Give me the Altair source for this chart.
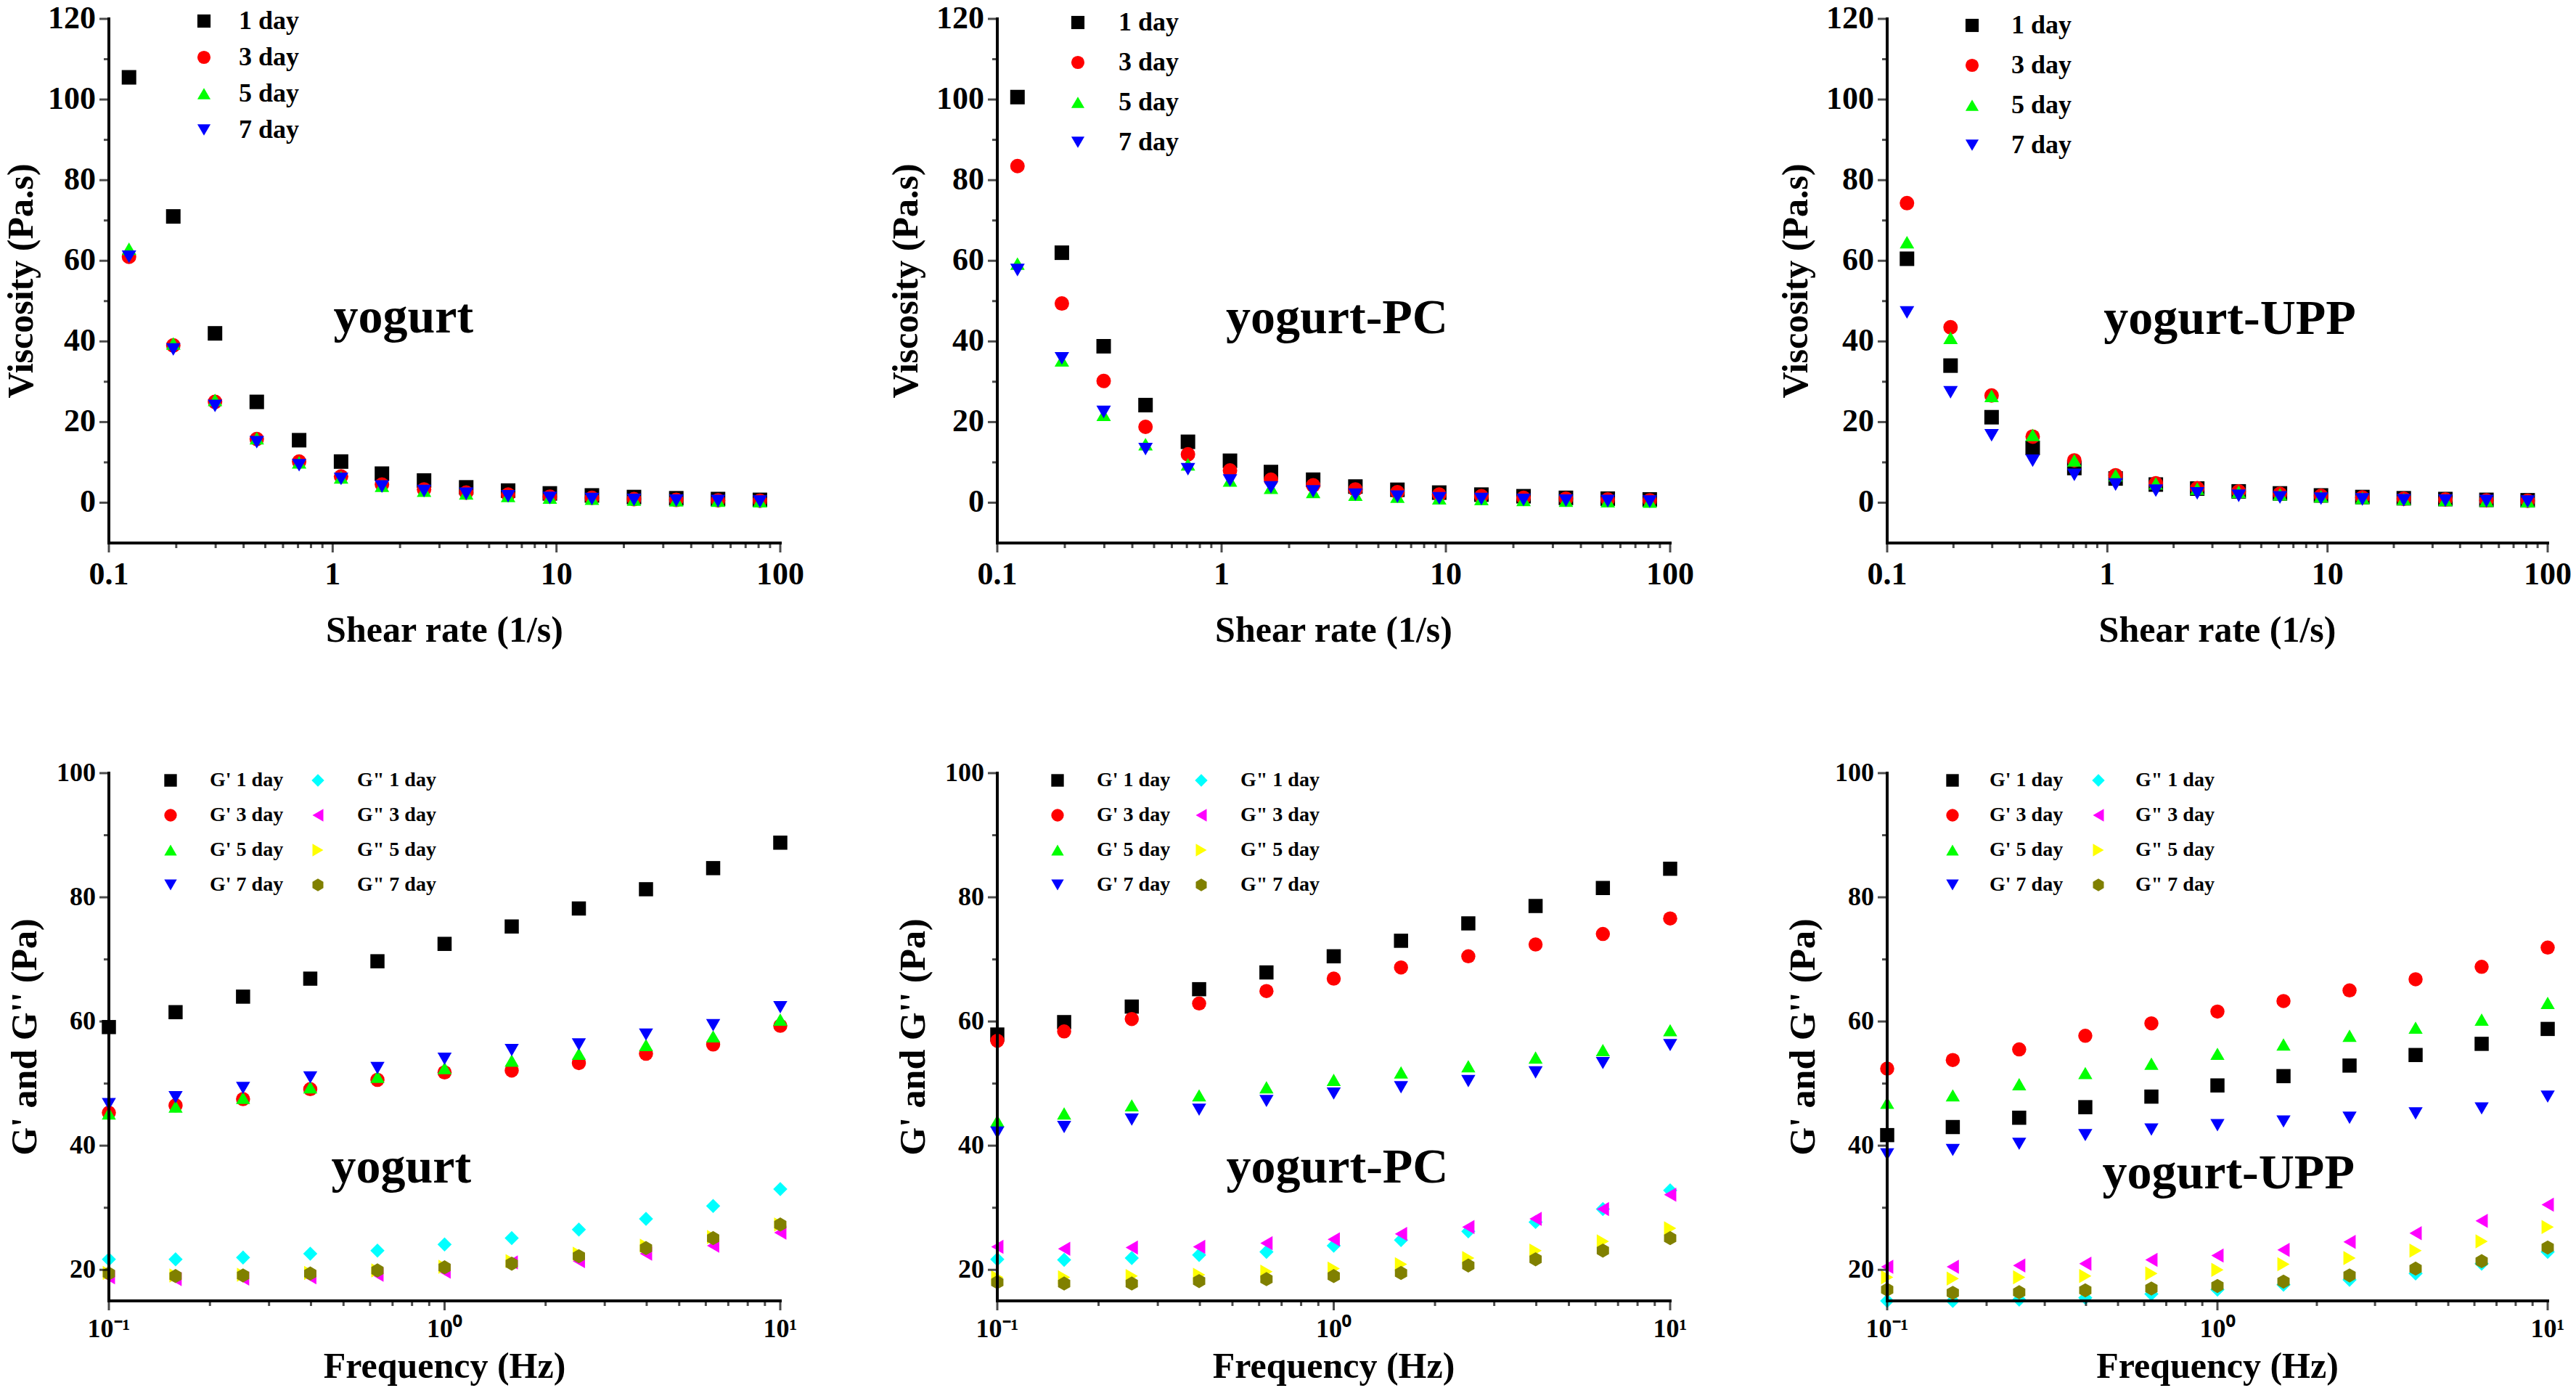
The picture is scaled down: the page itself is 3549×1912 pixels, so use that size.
import altair as alt
import pandas as pd

FONT = "Liberation Serif"

# ---------------- data ----------------
shear_rate = [0.123, 0.194, 0.298, 0.458, 0.708, 1.09, 1.66, 2.56, 3.95, 6.08,
              9.34, 14.4, 22.2, 34.3, 52.7, 81.1]
frequency = [0.1, 0.158, 0.251, 0.398, 0.631, 1.0, 1.585, 2.512, 3.981, 6.31, 10.0]

days = ["1 day", "3 day", "5 day", "7 day"]
day_colors = ["#000000", "#FF0000", "#00FF00", "#0000FF"]
day_shapes = ["square", "circle", "triangle-up", "triangle-down"]

# viscosity (Pa.s)
yog_1 = [105.5, 71, 42, 25, 15.5, 10.2, 7.2, 5.5, 3.8, 3.0, 2.3, 1.8, 1.4, 1.1, 0.9, 0.7]
yog_3 = [61, 39, 25, 15.8, 10.2, 6.5, 4.5, 3.3, 2.5, 2.0, 1.5, 1.2, 0.9, 0.7, 0.6, 0.5]
yog_5 = [63, 39.5, 25.5, 16, 10, 6.3, 4.2, 3.0, 2.3, 1.7, 1.3, 1.0, 0.8, 0.6, 0.5, 0.4]
yog_7 = [61, 38, 24, 15, 9.3, 5.9, 4.0, 2.9, 2.2, 1.6, 1.2, 0.9, 0.7, 0.5, 0.4, 0.3]

pc_1 = [100.6, 62, 38.8, 24.2, 15.1, 10.4, 7.6, 5.7, 4.0, 3.2, 2.5, 2.0, 1.6, 1.2, 1.0, 0.8]
pc_3 = [83.5, 49.4, 30.2, 18.8, 12, 8, 5.7, 4.3, 3.3, 2.6, 2.0, 1.6, 1.2, 1.0, 0.8, 0.6]
pc_5 = [59.3, 35.3, 21.8, 14.5, 9.5, 5.5, 3.7, 2.7, 2.0, 1.5, 1.1, 0.9, 0.7, 0.5, 0.4, 0.3]
pc_7 = [57.7, 35.8, 22.5, 13.3, 8.3, 5.5, 3.8, 2.8, 2.0, 1.5, 1.1, 0.9, 0.7, 0.5, 0.4, 0.3]

upp_1 = [60.5, 34, 21.2, 13.6, 8.6, 6.0, 4.5, 3.5, 2.8, 2.3, 1.8, 1.4, 1.1, 0.9, 0.7, 0.6]
upp_3 = [74.3, 43.5, 26.6, 16.4, 10.5, 6.8, 4.8, 3.6, 2.8, 2.2, 1.7, 1.3, 1.0, 0.8, 0.6, 0.5]
upp_5 = [64.6, 40.9, 26.5, 16.8, 10.5, 6.8, 4.8, 3.5, 2.7, 2.1, 1.6, 1.2, 0.9, 0.7, 0.5, 0.4]
upp_7 = [47.2, 27.4, 16.7, 10.4, 6.9, 4.5, 3.0, 2.3, 1.7, 1.3, 1.0, 0.8, 0.6, 0.5, 0.4, 0.3]

# moduli (Pa)
mod_series = ["G' 1 day", "G' 3 day", "G' 5 day", "G' 7 day",
              'G" 1 day', 'G" 3 day', 'G" 5 day', 'G" 7 day']
mod_colors = ["#000000", "#FF0000", "#00FF00", "#0000FF",
              "#00FFFF", "#FF00FF", "#FFFF00", "#808000"]
HEX = "M0,-1L0.866,-0.5L0.866,0.5L0,1L-0.866,0.5L-0.866,-0.5Z"
mod_shapes = ["square", "circle", "triangle-up", "triangle-down",
              "diamond", "triangle-left", "triangle-right", HEX]

y_gp1 = [59.1, 61.5, 64.0, 66.9, 69.7, 72.5, 75.3, 78.2, 81.3, 84.7, 88.8]
y_gp3 = [45.3, 46.5, 47.5, 49.1, 50.6, 51.8, 52.1, 53.3, 54.8, 56.3, 59.3]
y_gp5 = [45.2, 46.3, 47.7, 49.4, 51.1, 52.5, 53.7, 54.8, 56.2, 57.6, 60.3]
y_gp7 = [46.7, 47.8, 49.3, 51.0, 52.5, 54.0, 55.4, 56.3, 57.9, 59.4, 62.3]
y_gpp1 = [21.7, 21.7, 22.0, 22.6, 23.1, 24.1, 25.1, 26.5, 28.2, 30.3, 33.0]
y_gpp3 = [18.8, 18.5, 18.6, 18.8, 19.2, 19.7, 21.2, 21.4, 22.6, 23.9, 26.0]
y_gpp5 = [19.5, 19.1, 19.2, 19.5, 19.9, 20.5, 21.4, 22.6, 23.9, 25.3, 27.3]
y_gpp7 = [19.4, 19.0, 19.1, 19.4, 19.9, 20.4, 21.0, 22.2, 23.5, 25.1, 27.3]

pc_gp1 = [57.9, 59.9, 62.4, 65.2, 67.9, 70.5, 73.0, 75.8, 78.6, 81.5, 84.6]
pc_gp3 = [56.9, 58.4, 60.4, 62.9, 64.9, 66.9, 68.7, 70.5, 72.4, 74.1, 76.6]
pc_gp5 = [44.0, 45.2, 46.5, 48.1, 49.4, 50.6, 51.8, 52.8, 54.2, 55.4, 58.6]
pc_gp7 = [42.1, 43.0, 44.2, 45.8, 47.2, 48.4, 49.4, 50.4, 51.8, 53.3, 56.2]
pc_gpp1 = [21.7, 21.6, 21.9, 22.4, 22.9, 23.9, 24.8, 26.2, 27.7, 29.8, 32.8]
pc_gpp3 = [23.7, 23.4, 23.6, 23.7, 24.3, 24.9, 25.8, 26.9, 28.2, 29.8, 32.1]
pc_gpp5 = [18.8, 18.8, 19.0, 19.2, 19.7, 20.2, 20.9, 21.9, 23.1, 24.6, 26.7]
pc_gpp7 = [18.0, 17.8, 17.8, 18.2, 18.5, 19.0, 19.5, 20.7, 21.7, 23.1, 25.1]

upp_gp1 = [41.7, 43.0, 44.5, 46.2, 47.9, 49.7, 51.2, 52.9, 54.6, 56.4, 58.8]
upp_gp3 = [52.4, 53.8, 55.5, 57.7, 59.7, 61.6, 63.3, 65.0, 66.8, 68.8, 71.9]
upp_gp5 = [46.9, 48.1, 49.9, 51.7, 53.2, 54.8, 56.3, 57.7, 59.0, 60.3, 63.0]
upp_gp7 = [38.6, 39.3, 40.3, 41.7, 42.6, 43.3, 43.9, 44.5, 45.2, 46.0, 47.9]
upp_gpp1 = [15.0, 15.0, 15.2, 15.5, 16.1, 16.8, 17.6, 18.4, 19.4, 21.0, 22.9]
upp_gpp3 = [20.5, 20.5, 20.7, 21.0, 21.6, 22.3, 23.2, 24.5, 25.9, 27.9, 30.5]
upp_gpp5 = [18.8, 18.6, 18.8, 19.0, 19.4, 20.0, 20.9, 21.9, 23.1, 24.6, 26.9]
upp_gpp7 = [16.8, 16.3, 16.4, 16.7, 17.0, 17.4, 18.1, 19.1, 20.2, 21.4, 23.6]

# axis ranges, ticks and tick labels
visc_x_range = [0.1, 100]
visc_y_range = [-10, 120]
visc_major_x = [0.1, 1, 10, 100]
visc_x_labels = ["0.1", "1", "10", "100"]
visc_major_y = [0, 20, 40, 60, 80, 100, 120]
visc_y_labels = ["0", "20", "40", "60", "80", "100", "120"]
visc_minor_x = [0.2, 0.3, 0.4, 0.5, 0.6, 0.7, 0.8, 0.9, 2, 3, 4, 5, 6, 7, 8, 9,
                20, 30, 40, 50, 60, 70, 80, 90]
visc_minor_y = [10, 30, 50, 70, 90, 110]

mod_x_range = [0.1, 10]
mod_y_range = [15, 100]
mod_major_x = [0.1, 1, 10]
mod_x_labels = ["10\u207b\u00b9", "10\u2070", "10\u00b9"]
mod_major_y = [20, 40, 60, 80, 100]
mod_y_labels = ["20", "40", "60", "80", "100"]
mod_minor_x = [0.2, 0.3, 0.4, 0.5, 0.6, 0.7, 0.8, 0.9, 2, 3, 4, 5, 6, 7, 8, 9]
mod_minor_y = [30, 50, 70, 90]


# ---------------- helpers ----------------
def long_df(xs, series_names, series_values):
    rows = []
    for name, vals in zip(series_names, series_values):
        for x, v in zip(xs, vals):
            rows.append({"x": x, "v": v, "series": name})
    return pd.DataFrame(rows)


def text_layer(X, Y, xs, vs, texts, **props):
    d = pd.DataFrame({"x": xs, "v": vs, "t": texts})
    return alt.Chart(d).mark_text(font=FONT, fontWeight="bold", color="black", **props).encode(
        x=X(), y=Y(), text="t:N")


def frame(X, Y, xr, yr, xmajor, xlabels, ymajor, ylabels, xminor, yminor, label_fs,
          xtitle, ytitle, xtitle_off, ytitle_off, xmid, ymid):
    """Axis lines, ticks, tick labels and axis titles, all placed through the panel scales."""
    xline = alt.Chart(pd.DataFrame({"x": [xr[0]], "x2": [xr[1]], "v": [yr[0]]})).mark_rule(
        color="black", strokeWidth=4, strokeCap="square").encode(x=X(), x2="x2:Q", y=Y())
    yline = alt.Chart(pd.DataFrame({"x": [xr[0]], "v": [yr[0]], "v2": [yr[1]]})).mark_rule(
        color="black", strokeWidth=4, strokeCap="square").encode(x=X(), y=Y(), y2="v2:Q")
    layers = [xline, yline]
    for vals, size in ((xmajor, 12), (xminor, 6)):
        d = pd.DataFrame({"x": vals, "v": [yr[0]] * len(vals)})
        layers.append(alt.Chart(d).mark_tick(orient="vertical", size=size, thickness=3,
                                             color="black", yOffset=size / 2 + 1).encode(
            x=X(), y=Y()))
    for vals, size in ((ymajor, 12), (yminor, 6)):
        d = pd.DataFrame({"x": [xr[0]] * len(vals), "v": vals})
        layers.append(alt.Chart(d).mark_tick(orient="horizontal", size=size, thickness=3,
                                             color="black", xOffset=-(size / 2 + 1)).encode(
            x=X(), y=Y()))
    layers.append(text_layer(X, Y, xmajor, [yr[0]] * len(xmajor), xlabels,
                             fontSize=label_fs, align="center", baseline="top", yOffset=22))
    layers.append(text_layer(X, Y, [xr[0]] * len(ymajor), ymajor, ylabels,
                             fontSize=label_fs, align="right", baseline="middle", xOffset=-18))
    layers.append(text_layer(X, Y, [xmid], [yr[0]], [xtitle], fontSize=50, align="center",
                             baseline="top", yOffset=xtitle_off))
    layers.append(text_layer(X, Y, [xr[0]], [ymid], [ytitle], fontSize=50, align="center",
                             baseline="bottom", angle=270, xOffset=ytitle_off))
    return layers


def panel_label(label, label_x, label_y, X, Y):
    return text_layer(X, Y, [label_x], [label_y], [label], fontSize=68, align="center",
                      baseline="alphabetic")


def visc_panel(series_values, label, label_x, label_y, w, h, leg_x, leg_y, row_pad, lab_off,
               ytitle_off):
    df = long_df(shear_rate, days, series_values)
    xscale = alt.Scale(type="log", domain=visc_x_range, nice=False)
    yscale = alt.Scale(domain=visc_y_range, nice=False, zero=False)
    X = lambda: alt.X("x:Q", scale=xscale, axis=None)  # noqa: E731
    Y = lambda: alt.Y("v:Q", scale=yscale, axis=None)  # noqa: E731
    leg = alt.Legend(title=None, orient="none", legendX=leg_x, legendY=leg_y,
                     labelFont=FONT, labelFontWeight="bold", labelFontSize=36,
                     labelColor="black", symbolSize=330, symbolStrokeWidth=0,
                     rowPadding=row_pad, labelOffset=lab_off, padding=0)
    pts = alt.Chart(df).mark_point(filled=True, size=400, opacity=1).encode(
        x=X(), y=Y(),
        color=alt.Color("series:N", scale=alt.Scale(domain=days, range=day_colors), legend=leg),
        shape=alt.Shape("series:N", scale=alt.Scale(domain=days, range=day_shapes), legend=leg),
    )
    layers = [pts] + frame(X, Y, visc_x_range, visc_y_range, visc_major_x, visc_x_labels,
                           visc_major_y, visc_y_labels, visc_minor_x, visc_minor_y, 44,
                           "Shear rate (1/s)", "Viscosity (Pa.s)", 96, ytitle_off,
                           3.1623, 55) + [panel_label(label, label_x, label_y, X, Y)]
    return alt.layer(*layers).properties(width=w, height=h)


def mod_panel(series_values, label, label_x, label_y, w, h, leg_x, leg_y, row_pad, col_pad,
              lab_off):
    df = long_df(frequency, mod_series, series_values)
    xscale = alt.Scale(type="log", domain=mod_x_range, nice=False)
    yscale = alt.Scale(domain=mod_y_range, nice=False, zero=False)
    X = lambda: alt.X("x:Q", scale=xscale, axis=None)  # noqa: E731
    Y = lambda: alt.Y("v:Q", scale=yscale, axis=None)  # noqa: E731
    leg = alt.Legend(title=None, orient="none", legendX=leg_x, legendY=leg_y, columns=2,
                     labelFont=FONT, labelFontWeight="bold", labelFontSize=28,
                     labelColor="black", symbolSize=300, symbolStrokeWidth=0,
                     rowPadding=row_pad, columnPadding=col_pad, labelOffset=lab_off, padding=0)
    pts = alt.Chart(df).mark_point(filled=True, size=380, opacity=1).encode(
        x=X(), y=Y(),
        color=alt.Color("series:N", scale=alt.Scale(domain=mod_series, range=mod_colors),
                        legend=leg),
        shape=alt.Shape("series:N", scale=alt.Scale(domain=mod_series, range=mod_shapes),
                        legend=leg),
    )
    layers = [pts] + frame(X, Y, mod_x_range, mod_y_range, mod_major_x, mod_x_labels,
                           mod_major_y, mod_y_labels, mod_minor_x, mod_minor_y, 36,
                           "Frequency (Hz)", "G' and G'' (Pa)", 66, -90,
                           1.0, 57.5) + [panel_label(label, label_x, label_y, X, Y)]
    return alt.layer(*layers).properties(width=w, height=h)


W1, W2, W3 = 925, 927, 910
H1, H2 = 722, 727

p1 = visc_panel([yog_1, yog_3, yog_5, yog_7], "yogurt", 2.07, 42.3, W1, H1, 113, -15, 14, 30, -95)
p2 = visc_panel([pc_1, pc_3, pc_5, pc_7], "yogurt-PC", 3.27, 42.1, W2, H1, 93, -13, 19, 38, -100)
p3 = visc_panel([upp_1, upp_3, upp_5, upp_7], "yogurt-UPP", 3.6, 41.9, W3, H1, 99, -9, 19, 36,
                -100)

p4 = mod_panel([y_gp1, y_gp3, y_gp5, y_gp7, y_gpp1, y_gpp3, y_gpp5, y_gpp7],
               "yogurt", 0.743, 34.0, W1, H2, 71, -4, 20, 33, 40)
p5 = mod_panel([pc_gp1, pc_gp3, pc_gp5, pc_gp7, pc_gpp1, pc_gpp3, pc_gpp5, pc_gpp7],
               "yogurt-PC", 1.025, 34.0, W2, H2, 69, -4, 20, 28, 40)
p6 = mod_panel([upp_gp1, upp_gp3, upp_gp5, upp_gp7, upp_gpp1, upp_gpp3, upp_gpp5, upp_gpp7],
               "yogurt-UPP", 1.08, 33.1, W3, H2, 76, -4, 20, 34, 37)

chart = alt.concat(p1, p2, p3, p4, p5, p6, columns=3, bounds="flush",
                   spacing={"row": 317, "column": 299}).resolve_scale(
    color="independent", shape="independent", x="independent", y="independent"
).resolve_legend(color="independent", shape="independent").properties(
    padding={"left": 5, "top": 4, "right": 5, "bottom": 5},
    background="white",
).configure_view(strokeWidth=0)

chart.save("out.html", embed_options={"renderer": "svg", "actions": False})
